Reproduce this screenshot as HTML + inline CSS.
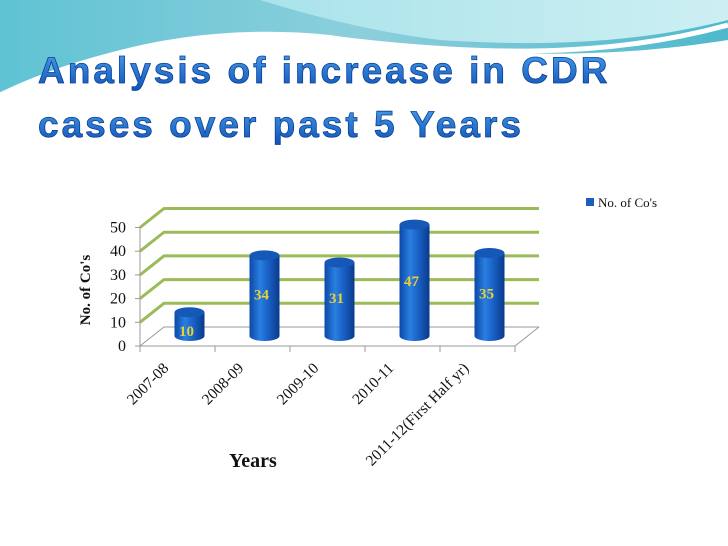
<!DOCTYPE html>
<html><head><meta charset="utf-8"><style>
body{margin:0;width:728px;height:546px;overflow:hidden;background:#fff;}
svg{display:block}
</style></head><body>
<svg width="728" height="546" viewBox="0 0 728 546">
<defs>
<linearGradient id="wave1" x1="0" y1="0" x2="1" y2="0"><stop offset="0" stop-color="#5fc3d3"/><stop offset="0.5" stop-color="#8ccfdc"/><stop offset="1" stop-color="#4fb8cc"/></linearGradient>
<linearGradient id="wave2" x1="0" y1="0" x2="1" y2="0"><stop offset="0" stop-color="#a9e3ea"/><stop offset="1" stop-color="#cdeff3"/></linearGradient>
<linearGradient id="cyl" x1="0" y1="0" x2="1" y2="0"><stop offset="0" stop-color="#0c48a8"/><stop offset="0.35" stop-color="#2a7fe0"/><stop offset="0.6" stop-color="#1a63c8"/><stop offset="1" stop-color="#0a3a8c"/></linearGradient>
<linearGradient id="title" x1="0" y1="0" x2="0" y2="1"><stop offset="0" stop-color="#4aa0ee"/><stop offset="1" stop-color="#0e52b8"/></linearGradient>
</defs>
<g>
<path d="M0 0 H728 V40 C600 60 480 58 330 35 C200 22 90 50 0 95 Z" fill="url(#wave1)"/>
<path d="M260 0 H728 V20 C650 40 560 48 440 40 C360 30 300 12 260 0 Z" fill="url(#wave2)"/>
<path d="M0 95 C90 52 200 28 330 38 C470 55 600 60 728 25" fill="none" stroke="#fff" stroke-width="5"/>
</g>
<g font-family="Liberation Sans, sans-serif" font-weight="bold" font-size="37" fill="url(#title)" stroke="#0b3f91" stroke-width="0.8" letter-spacing="3">
<text x="38" y="83">Analysis of increase in CDR</text>
<text x="38" y="137">cases over past 5 Years</text>
</g>
<g id="chart"></g>
<g>
<rect x="586" y="198" width="8" height="8" fill="#1a5fc0"/>
<text x="598" y="207" font-family="Liberation Serif, serif" font-size="13" fill="#111">No. of Co's</text>
</g>
<text x="229" y="467" font-family="Liberation Serif, serif" font-weight="bold" font-size="20" fill="#111">Years</text>
<text transform="translate(90,290) rotate(-90)" text-anchor="middle" font-family="Liberation Serif, serif" font-weight="bold" font-size="15" fill="#111">No. of Co's</text>
</svg>
<script>
const categories=["2007-08","2008-09","2009-10","2010-11","2011-12(First Half yr)"];
const values=[10,34,31,47,35];
const ticks=[0,10,20,30,40,50];
const NS="http://www.w3.org/2000/svg";
const g=document.getElementById("chart");
const X0=140,X1=515,Y0=346,PX=2.37,DX=24,DY=-19;
function yF(v){return Y0-v*PX;}
function xC(i){return X0+(i+0.5)*(X1-X0)/categories.length;}
function el(t,a){const e=document.createElementNS(NS,t);for(const k in a)e.setAttribute(k,a[k]);g.appendChild(e);return e;}
ticks.forEach(function(t){
 const y=yF(t);
 const c=t===0?"#999":"#9bbb59";const w=t===0?1:3;
 let l=el("polyline",{points:X0+","+y+" "+(X0+DX)+","+(y+DY)+" "+(X1+DX)+","+(y+DY),fill:"none",stroke:c,"stroke-width":w});
 
 
 let tx=el("text",{x:X0-14,y:y+5,"text-anchor":"end","font-family":"Liberation Serif, serif","font-size":"16",fill:"#111"});
 tx.textContent=t;
 
 
});
let ax=el("polyline",{points:X0+","+Y0+" "+X1+","+Y0+" "+(X1+DX)+","+(Y0+DY),fill:"none",stroke:"#999","stroke-width":1});


let ay=el("line",{x1:X0,y1:Y0,x2:X0,y2:yF(50),stroke:"#999","stroke-width":1});


for(let i=0;i<=categories.length;i++){
 const x=X0+i*(X1-X0)/categories.length;
 let tk=el("line",{x1:x,y1:Y0,x2:x,y2:Y0+6,stroke:"#999"});
 
 
}
ticks.forEach(function(t){let tk=el("line",{x1:X0-5,y1:yF(t),x2:X0,y2:yF(t),stroke:"#999"});
 
 });
values.forEach(function(v,i){
 const cx=xC(i)+12,base=Y0-10,top=base-v*PX,r=15,ry=5;
 let b=el("path",{d:"M"+(cx-r)+","+top+" V"+base+" A"+r+","+ry+" 0 0 0 "+(cx+r)+","+base+" V"+top+" Z",fill:"url(#cyl)"});
 
 
 let tp=el("ellipse",{cx:cx,cy:top,rx:r,ry:ry,fill:"#1558b8"});
 
 
 let lb=el("text",{x:cx-3,y:(v<15?base:top+v*PX*0.55),"text-anchor":"middle","font-family":"Liberation Serif, serif","font-weight":"bold","font-size":"15",fill:"#e8d038"});
 lb.textContent=v;
 
 
 let cl=el("text",{transform:"translate("+(xC(i)-8)+",369) rotate(-45)","text-anchor":"end","font-family":"Liberation Serif, serif","font-size":"15.5",fill:"#111"});
 cl.textContent=categories[i];
 
 
});
</script>
</body></html>
